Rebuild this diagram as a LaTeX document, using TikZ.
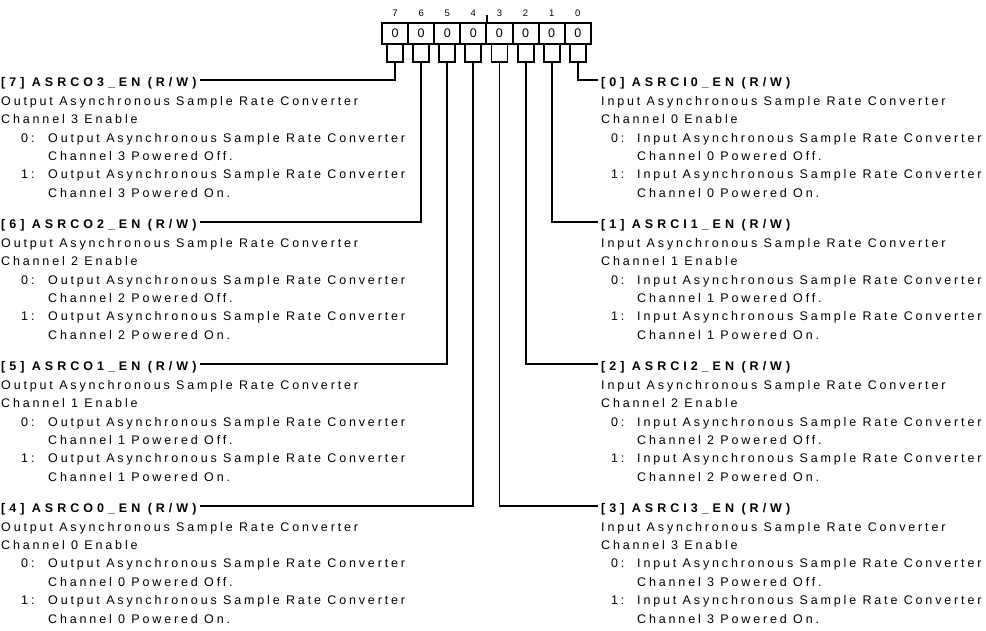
\documentclass[tikz,border=0pt]{standalone}
\usepackage{fontspec}
\setmainfont{Liberation Sans}
\newfontfamily\dbodyfont{Liberation Sans}[LetterSpace=22.8]
\newfontfamily\dheadfont{Liberation Sans}[LetterSpace=32]
\usetikzlibrary{positioning}
\tikzset{
  dbit/.style={draw=black, line width=2pt, minimum width=26.1pt,
               minimum height=21.3pt, inner sep=0pt,
               font=\fontsize{12.5}{14}\selectfont},
  dnum/.style={font=\fontsize{9.5}{10}\selectfont, inner sep=0pt},
  dwire/.style={black, line width=1.9pt},
  dhead/.style={font=\dheadfont\bfseries\fontsize{12.5}{14}\selectfont,
                inner xsep=3pt, inner ysep=0pt, text height=13.4pt,
                text depth=0pt, anchor=base west},
  dtext/.style={font=\dbodyfont\fontsize{12.5}{18.4}\selectfont,
                align=left, inner sep=0pt, anchor=base west},
}

\begin{document}
\begin{tikzpicture}[x=1pt, y=-1pt]
  \useasboundingbox (0,0) rectangle (986,631);

  % registrador
  \foreach \b in {7,...,0} {
    \node[dbit] (b\b) at ({382+26.1*(7-\b)+13.05}, 33.35) {0};
    \node[dnum] (n\b) at ({382+26.1*(7-\b)+13.05}, 13) {\b};
  }
  \draw[dwire] (b4.north east) -- ++(0,-6.7);

  % colchetes
  \foreach \b in {7,...,0} {
    \draw[dwire] ([xshift=-8pt]b\b.south) -- ++(0,17) -- ++(16,0) -- ++(0,-17);
    \coordinate (s\b) at ([yshift=-17pt]b\b.south);
  }

  % campos de saida (base = ultima linha)
  \foreach \b/\k/\c in {7/0/3,6/1/2,5/2/1,4/3/0} {
    \pgfmathsetmacro\yb{87+141.9*\k}
    \node[dhead] (h\b) at (-2,\yb) {[\b] ASRCO\c\_EN (R/W)};
    \node[dtext] (d\b) at (1,\yb+110.4) {Output Asynchronous Sample Rate Converter\\
      Channel \c\ Enable\\
      \hspace*{20pt}\makebox[27pt][l]{0:}Output Asynchronous Sample Rate Converter\\
      \hspace*{47pt}Channel \c\ Powered Off.\\
      \hspace*{20pt}\makebox[27pt][l]{1:}Output Asynchronous Sample Rate Converter\\
      \hspace*{47pt}Channel \c\ Powered On.};
    \draw[dwire] (s\b) |- (h\b.east);
  }

  % campos de entrada
  \foreach \b in {0,...,3} {
    \pgfmathsetmacro\yb{87+141.9*\b}
    \node[dhead] (h\b) at (598,\yb) {[\b] ASRCI\b\_EN (R/W)};
    \node[dtext] (d\b) at (601,\yb+110.4) {Input Asynchronous Sample Rate Converter\\
      Channel \b\ Enable\\
      \hspace*{10pt}\makebox[26pt][l]{0:}Input Asynchronous Sample Rate Converter\\
      \hspace*{36pt}Channel \b\ Powered Off.\\
      \hspace*{10pt}\makebox[26pt][l]{1:}Input Asynchronous Sample Rate Converter\\
      \hspace*{36pt}Channel \b\ Powered On.};
    \draw[dwire] (s\b) |- (h\b.west);
  }

\end{tikzpicture}
\end{document}
